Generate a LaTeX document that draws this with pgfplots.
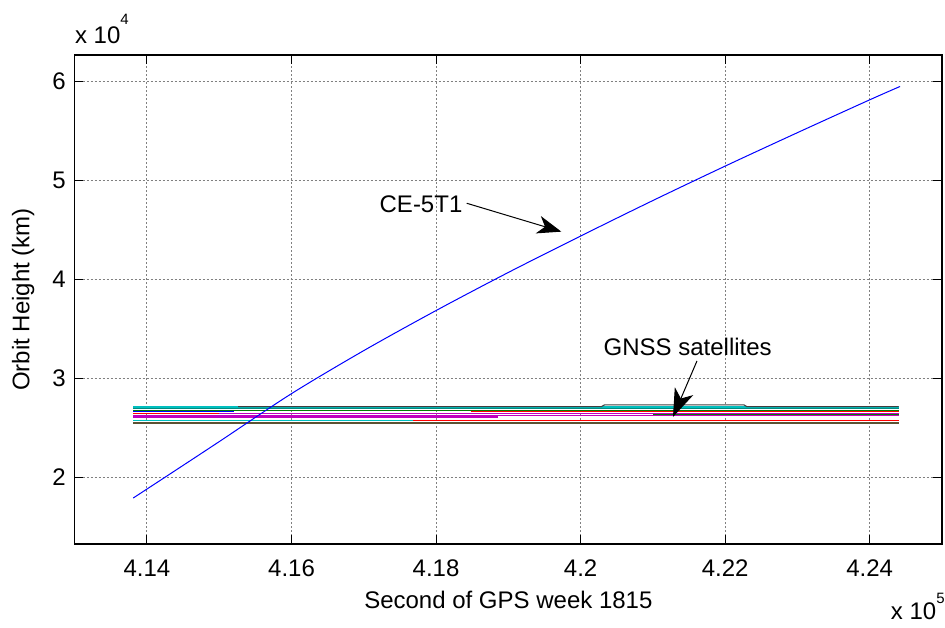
\documentclass[border=0pt]{standalone}
\usepackage{fontspec}
\setmainfont{Liberation Sans}
\usepackage{pgfplots}
\pgfplotsset{compat=1.18}
\usetikzlibrary{arrows.meta}

% MATLAB-style line colours
\definecolor{mb}{rgb}{0,0,1}
\definecolor{mg}{rgb}{0,0.5,0}
\definecolor{mt}{rgb}{0,0.55,0.5}
\definecolor{mr}{rgb}{1,0,0}
\definecolor{mc}{rgb}{0,0.75,0.75}
\definecolor{mm}{rgb}{0.75,0,0.75}
\definecolor{mk}{rgb}{0.25,0.25,0.25}
\definecolor{mo}{rgb}{0.36,0.32,0.2}

\begin{document}
\begin{tikzpicture}[font=\fontsize{12bp}{14bp}\selectfont]
\begin{axis}[
  name=ax,
  scale only axis,
  width=433.65bp, height=244.5bp,
  xmin=413000, xmax=425000,
  ymin=13250, ymax=62680,
  xtick={414000,416000,418000,420000,422000,424000},
  xticklabels={4.14,4.16,4.18,4.2,4.22,4.24},
  ytick={20000,30000,40000,50000,60000},
  yticklabels={2,3,4,5,6},
  scaled ticks=false,
  tick align=inside,
  major tick length=4.3bp,
  tick style={black, line width=0.5bp},
  axis line style={black, line width=0.75bp},
  grid=major,
  major grid style={black!50, line width=0.5bp, dash pattern=on 1bp off 1bp},
  xticklabel style={anchor=base, inner sep=0pt, yshift=-16.2bp},
  yticklabel style={anchor=east, inner sep=0pt, xshift=-4.35bp},
  no markers,
  every axis plot/.append style={line width=0.55bp},
]

% GNSS satellite orbit heights
\addplot[mc, line width=0.8bp] coordinates {(413810,27077) (424400,27077)};
\addplot[mk] coordinates {(415260,27138) (420287,27138) (420330,27309) (422260,27309) (422300,27138) (424400,27138)};
\addplot[mc] coordinates {(420500,26990) (424400,26990)};
\addplot[mt] coordinates {(413810,26905) (424400,26905)};
\addplot[mg] coordinates {(413810,26770) (424400,26770)};
\addplot[mb] coordinates {(413810,26600) (415200,26600)};
\addplot[mr] coordinates {(418490,26650) (424400,26650)};
\addplot[mr] coordinates {(413810,26440) (415110,26440)};
\addplot[mm] coordinates {(415000,26440) (424400,26440)};
\addplot[mg] coordinates {(421000,26330) (424400,26330)};
\addplot[mm] coordinates {(413810,26228) (424400,26228)};
\addplot[mm] coordinates {(413810,26090) (418860,26090)};
\addplot[mc] coordinates {(413810,25723) (417680,25723)};
\addplot[mr] coordinates {(417680,25723) (424400,25723)};
\addplot[mo, line width=0.9bp] coordinates {(413810,25521) (424400,25521)};

% CE-5T1 orbit height
\addplot[mb, line width=0.5bp, smooth] coordinates {
  (413810,17900) (414250,20000) (415000,23600) (416000,28450)
  (417000,32800) (418000,36850) (419000,40700) (420000,44380)
  (421000,47970) (422000,51450) (423000,54830) (424000,58150)
  (424420,59500)
};

% annotations
\node[anchor=base west, inner sep=0pt] at (axis cs:417214,46743) {CE-5T1};
\draw[line width=0.5bp, -{Stealth[length=12bp,width=9bp,inset=3.5bp]}]
  (axis cs:418424,47693) -- (axis cs:419733,44823);
\node[anchor=base west, inner sep=0pt] at (axis cs:420314,32261) {GNSS satellites};
\draw[line width=0.5bp, -{Stealth[length=14bp,width=10bp,inset=4bp]}]
  (axis cs:421610,31756) -- (axis cs:421278,26096);
\end{axis}

% axis labels and exponent multipliers
\node[anchor=base, inner sep=0pt] at ([yshift=-32.4bp]ax.south) {Second of GPS week 1815};
\node[rotate=90, anchor=base, inner sep=0pt] at ([xshift=-22.6bp]ax.west) {Orbit Height (km)};
\node[anchor=base west, inner sep=0pt] at ([yshift=5.85bp]ax.north west)
  {x 10\raisebox{9.2bp}{\fontsize{7.5bp}{8bp}\selectfont 4}};
\node[anchor=base east, inner sep=0pt] at ([xshift=1.5bp,yshift=-37.85bp]ax.south east)
  {x 10\raisebox{8bp}{\fontsize{7.5bp}{8bp}\selectfont 5}};

\pgfresetboundingbox
\path ([xshift=-37.35bp,yshift=-42bp]ax.south west) rectangle ([xshift=1.5bp,yshift=27.5bp]ax.north east);
\end{tikzpicture}
\end{document}
